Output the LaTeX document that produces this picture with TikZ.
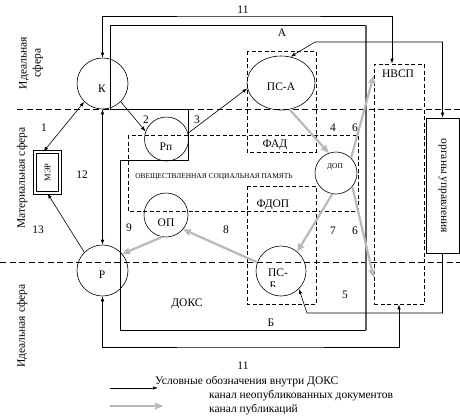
\documentclass[tikz,border=0pt]{standalone}
\usepackage{fontspec}
\setmainfont{Liberation Serif}
\usetikzlibrary{arrows.meta,shapes.geometric,calc}
\begin{document}
\begin{tikzpicture}[x=1pt,y=-1pt,
 every node/.style={inner sep=0pt},
 txt/.style={font=\fontsize{11.5}{14}\selectfont},
 small/.style={font=\fontsize{7.4}{8}\selectfont},
 circ/.style={draw,circle,line width=0.6pt},
 dbox/.style={draw,dash pattern=on 4pt off 2.5pt,line width=0.7pt},
 dline/.style={dash pattern=on 6pt off 3.5pt,line width=0.7pt},
 arr/.style={line width=0.6pt,-{Latex[length=5pt,width=3.5pt]}},
 darr/.style={line width=0.6pt,{Latex[length=5pt,width=3.5pt]}-{Latex[length=5pt,width=3.5pt]}},
 garr/.style={line width=2.2pt,draw=gray!55,-{Stealth[length=8pt,width=7pt,inset=1pt]}},
]
\useasboundingbox[fill=white] (0,0) rectangle (460,416);

% sphere boundaries
\draw[dline] (17,109) -- (460,109);
\draw[dline] (0,262) -- (460,262);

% dashed regions
\draw[dbox] (247,51) rectangle (316,152);
\draw[dbox] (247,186) rectangle (316,304);
\draw[dbox] (128,135) rectangle (358,211);

% DOKS boundary
\draw[line width=0.6pt] (366,25) -- (110,25) -- (110,109) -- (188,109) -- (188,160) -- (120,160) -- (120,330) -- (366,330);
\draw[line width=1.4pt,draw=gray!75!black] (366,330) -- (366,25);

% nodes
\node[circ,minimum size=51pt] (K) at (102.5,83.5) {};
\node[circ,minimum size=44pt] (Rp) at (166.5,139) {};
\node[draw,ellipse,minimum width=68pt,minimum height=54pt,line width=0.6pt] (PSA) at (281,83) {};
\node[circ,minimum size=42pt] (DOP) at (336,173) {};
\node[circ,minimum size=44pt] (OP) at (166,215) {};
\node[circ,minimum size=50pt] (PSB) at (281,271) {};
\node[circ,minimum size=51pt] (R) at (102.5,270.5) {};
\node[draw,double,double distance=1.6pt,line width=0.8pt,minimum width=25pt,minimum height=41pt] (MER) at (47.5,172.5) {};
\node[draw,line width=0.7pt,minimum width=33pt,minimum height=135pt] (ORG) at (442.5,185.5) {};
\node[dbox,minimum width=50pt,minimum height=240pt] (NVSP) at (399,184) {};

% helper points
\coordinate (c1) at (315,42);
\coordinate (c2) at (307,313);
\coordinate (c3) at (250,16);
\coordinate (c4) at (250,347);

% black connectors
\draw[darr] ([xshift=-4pt]MER.north) -- (K.225);
\draw[arr] (R.135) -- (MER.south);
\draw[darr] (K.south) -- (R.north);
\draw[arr] (K.-45) -- (Rp.160);
\draw[arr] (Rp.15) -- (PSA.189);
\draw[darr] (PSA.70) -- (c1) -| (ORG.north);
\draw[arr] (ORG.south) |- (c2) -- (PSB.-45);
\draw[darr] (K.north) |- (c3) -| ([xshift=-7pt]NVSP.north);
\draw[darr] (R.south) |- (c4) -| (NVSP.south);

% grey connectors
\draw[garr] (PSA.-72) -- (DOP.110);
\draw[garr] (DOP.45) -- ([yshift=-12pt]NVSP.north west);
\draw[garr] (DOP.-100) -- (PSB.50);
\draw[garr] (DOP.-40) -- ([yshift=27pt]NVSP.south west);
\draw[garr] (PSB.160) -- (OP.-40);
\draw[garr] (OP.-100) -- (R.40);

% texts
\node[txt] (tK) at (102,89) {К};
\node[txt] (tRp) at (166,147) {Рп};
\node[txt] (tPSA) at (281,87) {ПС-А};
\node[small] (tDOP) at (335,167) {ДОП};
\node[txt] (tOP) at (166,223) {ОП};
\node[txt] (tR) at (102,275) {Р};
\node[txt] (tPSB) at (278,273) {ПС-};
\begin{scope}
\clip (260,280) rectangle (290,286);
\node[txt,anchor=north] (tPSB2) at (273,281.5) {Б};
\end{scope}
\node[font=\fontsize{8.5}{9}\selectfont,rotate=90] (tMER) at (47.5,172.5) {МЭР};
\node[txt,rotate=-90] (tORG) at (442.5,186) {органы управления};
\node[txt] (tNV) at (398,74) {НВСП};
\node[txt] (tFAD) at (275,145) {ФАД};
\node[txt] (tFDOP) at (273,205) {ФДОП};
\node[small] (tOSP) at (214,177) {ОВЕЩЕСТВЛЕННАЯ СОЦИАЛЬНАЯ ПАМЯТЬ};
\node[txt] (tDOKS) at (187,304) {ДОКС};
\node[txt] (tA) at (282,33) {А};
\node[txt] (tB) at (271,323) {Б};
\node[txt] (n11a) at (243,10) {11};
\node[txt] (n11b) at (243,366) {11};
\node[txt] (n1) at (44,128) {1};
\node[txt] (n2) at (146,120) {2};
\node[txt] (n3) at (197,120) {3};
\node[txt] (n4) at (333,128) {4};
\node[txt] (n6a) at (355,128) {6};
\node[txt] (n12) at (82,175) {12};
\node[txt] (n13) at (38,230) {13};
\node[txt] (n9) at (129,228) {9};
\node[txt] (n8) at (226,230) {8};
\node[txt] (n7) at (333,231) {7};
\node[txt] (n6b) at (355,231) {6};
\node[txt] (n5) at (345,295) {5};
\node[txt,rotate=90,align=center] (tIS1) at (31,63) {Идеальная\\сфера};
\node[txt,rotate=90] (tMS) at (22,178) {Материальная сфера};
\node[txt,rotate=90] (tIS2) at (22,326) {Идеальная сфера};

% legend
\coordinate (l1a) at (110,388);
\coordinate (l1b) at (158,388);
\coordinate (l2a) at (110,406);
\coordinate (l2b) at (163,406);
\draw[arr] (l1a) -- (l1b);
\draw[garr] (l2a) -- (l2b);
\node[txt,anchor=west] (lg1) at (155,382) {Условные обозначения внутри ДОКС};
\node[txt,anchor=west] (lg2) at (209,396) {канал неопубликованных документов};
\node[txt,anchor=base west] (lg3) at (209,412) {канал публикаций};
\end{tikzpicture}
\end{document}
